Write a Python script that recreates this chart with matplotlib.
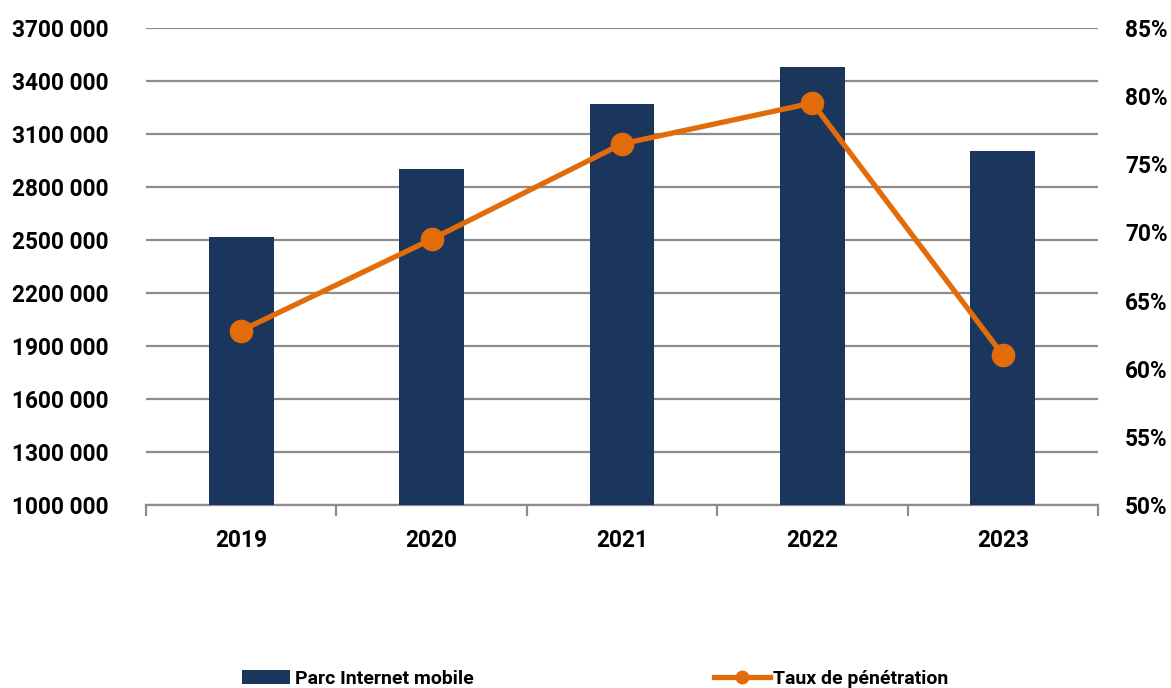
import matplotlib.pyplot as plt
import numpy as np
from matplotlib.ticker import FixedLocator, FuncFormatter

years = ["2019", "2020", "2021", "2022", "2023"]
parc_internet = [2519000, 2900000, 3270000, 3478000, 3004000]
taux_penetration = [62.8, 69.5, 76.5, 79.5, 61.0]

left_ticks = list(range(1000000, 3700001, 300000))
right_ticks = [50, 55, 60, 65, 70, 75, 80, 85]

navy = "#1a365d"
orange = "#e36c0a"
grid_grey = "#8c8c8c"

plt.rcParams["font.family"] = ["Roboto", "DejaVu Sans"]
plt.rcParams["font.weight"] = "bold"

fig = plt.figure(figsize=(11.71, 6.88), dpi=100)
ax = fig.add_axes([0.1247, 0.266, 0.8130, 0.6933])
ax2 = ax.twinx()

x = np.arange(len(years))
bars = ax.bar(x, parc_internet, width=0.34, color=navy, zorder=3,
              label="Parc Internet mobile")
ax.set_ylim(1000000, 3700000)
ax.set_xlim(-0.5, len(years) - 0.5)
ax.yaxis.set_major_locator(FixedLocator(left_ticks))
ax.yaxis.set_major_formatter(FuncFormatter(
    lambda v, p: f"{int(v) // 1000} {int(v) % 1000:03d}"))
ax.grid(axis="y", color=grid_grey, linewidth=1.6, zorder=0)
ax.set_axisbelow(True)

tick_size = 16.3
ax.set_xticks(x)
ax.set_xticklabels(years)
ax.set_xticks(np.arange(-0.5, len(years)), minor=True)
ax.tick_params(axis="x", which="major", length=0, pad=17, labelsize=tick_size)
ax.tick_params(axis="x", which="minor", length=8, width=1.6, color=grid_grey)
ax.tick_params(axis="y", length=0, pad=27, labelsize=tick_size)

for side in ["left", "right", "top"]:
    ax.spines[side].set_visible(False)
    ax2.spines[side].set_visible(False)
ax.spines["bottom"].set_color(grid_grey)
ax.spines["bottom"].set_linewidth(1.6)
ax2.spines["bottom"].set_visible(False)

line, = ax2.plot(x, taux_penetration, color=orange, linewidth=3.8,
                 marker="o", markersize=16, zorder=4,
                 label="Taux de pénétration")
ax2.set_ylim(50, 85)
ax2.yaxis.set_major_locator(FixedLocator(right_ticks))
ax2.yaxis.set_major_formatter(FuncFormatter(lambda v, p: f"{int(v)}%"))
ax2.tick_params(axis="y", length=0, pad=19.5, labelsize=tick_size)

for lbl in ax.get_xticklabels() + ax.get_yticklabels() + ax2.get_yticklabels():
    lbl.set_fontweight("bold")

# two legend entries placed apart at the bottom edge
leg_font = {"weight": "bold", "size": 14}
leg1 = fig.legend([bars], ["Parc Internet mobile"], loc="center left",
                  bbox_to_anchor=(0.2067, 0.013), frameon=False, prop=leg_font,
                  handlelength=2.47, handleheight=0.75, handletextpad=0.26,
                  borderaxespad=0, borderpad=0)
leg2 = fig.legend([line], ["Taux de pénétration"], loc="center left",
                  bbox_to_anchor=(0.6097, 0.013), frameon=False, prop=leg_font,
                  handlelength=2.9, handletextpad=0.15,
                  borderaxespad=0, borderpad=0)
leg2.legend_handles[0].set_markersize(9)

fig.savefig("out.png", dpi=100)
